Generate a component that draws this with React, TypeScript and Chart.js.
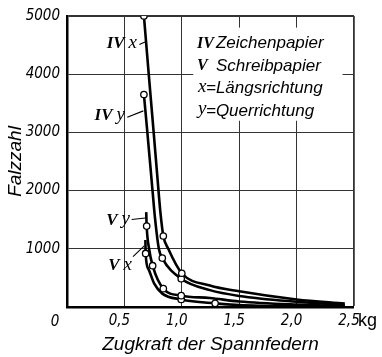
import { useEffect, useRef } from "react";
import { Chart, registerables } from "chart.js";

Chart.register(...registerables);

// Axis ticks
const kgTicks = [0, 0.5, 1.0, 1.5, 2.0, 2.5];
const falzTicks = [0, 1000, 2000, 3000, 4000, 5000];

// IV x – Zeichenpapier, Längsrichtung (ring = measured point)
const ivxKg = [0.67, 0.712, 0.755, 0.797, 0.815, 0.839, 0.882, 1.0, 1.245, 1.5, 2.0, 2.42];
const ivxFalz = [5000, 4000, 3000, 2000, 1600, 1220, 1000, 580, 370, 270, 130, 60];
const ivxRing = [1, 0, 0, 0, 0, 1, 0, 1, 0, 0, 0, 0];

// IV y – Zeichenpapier, Querrichtung
const ivyKg = [0.67, 0.7, 0.745, 0.768, 0.8, 0.83, 0.995, 1.245, 1.5, 2.0, 2.42];
const ivyFalz = [3650, 3000, 2000, 1500, 1000, 840, 485, 290, 190, 90, 35];
const ivyRing = [1, 0, 0, 0, 0, 1, 1, 0, 0, 0, 0];

// V y – Schreibpapier, Querrichtung
const vyKg = [0.69, 0.694, 0.715, 0.746, 0.839, 0.995, 1.245, 1.5, 2.0, 2.42];
const vyFalz = [1630, 1390, 1000, 710, 315, 195, 155, 95, 40, 15];
const vyRing = [0, 1, 0, 1, 1, 1, 0, 0, 0, 0];

// V x – Schreibpapier, Längsrichtung
const vxKg = [0.683, 0.685, 0.71, 0.76, 0.83, 0.995, 1.29, 1.5, 2.0, 2.42];
const vxFalz = [1150, 920, 650, 400, 230, 130, 63, 35, 12, 5];
const vxRing = [0, 1, 0, 0, 0, 1, 1, 0, 0, 0];

// Curve captions: numeral, direction letter, text anchor and leader line (kg, Falzzahl)
const curveCaptions = [
  { numeral: "IV", letter: "x", at: [0.61, 4525], lead: [[0.63, 4510], [0.69, 4560]] },
  { numeral: "IV", letter: "y", at: [0.505, 3290], lead: [[0.525, 3260], [0.665, 3370]] },
  { numeral: "V", letter: "y", at: [0.549, 1490], lead: [[0.563, 1503], [0.683, 1530]] },
  { numeral: "V", letter: "x", at: [0.566, 712], lead: [[0.575, 865], [0.673, 1050]] },
];

// Key text
const keyPrefixes = ["IV", "V", "x", "y"];
const keyTexts = ["Zeichenpapier", "Schreibpapier", "=Längsrichtung", "=Querrichtung"];

const SANS = '"Liberation Sans", "DejaVu Sans", sans-serif';
const NARROW = '"Liberation Sans Narrow", "DejaVu Sans Condensed", sans-serif';
const SERIF = '"Liberation Serif", "DejaVu Serif", serif';

const fmtKg = (v: number) => (v === 0 ? "" : v.toFixed(1).replace(".", ","));

const annotations = {
  id: "annotations",
  afterDraw(chart: any) {
    const { ctx, chartArea } = chart;
    const xs = chart.scales.x;
    const ys = chart.scales.y;
    const px = (k: number) => xs.getPixelForValue(k);
    const py = (f: number) => ys.getPixelForValue(f);
    ctx.save();

    // key box
    const bx0 = px(1.1);
    const bx1 = px(2.4);
    const by0 = py(4800);
    const by1 = py(3200);
    ctx.fillStyle = "#fff";
    ctx.fillRect(bx0, by0, bx1 - bx0, by1 - by0);

    ctx.fillStyle = "#000";
    ctx.textBaseline = "middle";
    ctx.textAlign = "left";
    const rowX = px(1.132);
    const rowY0 = py(4525);
    keyPrefixes.forEach((p, i) => {
      const y = rowY0 + i * 22.5;
      const roman = p === "IV" || p === "V";
      ctx.font = roman ? `italic bold 16px ${SERIF}` : `italic 19px ${SERIF}`;
      ctx.fillText(p, rowX + (roman ? 0 : 1), y + (roman ? 0 : -2));
      ctx.font = `italic 17px ${SANS}`;
      ctx.fillText(keyTexts[i], roman ? rowX + 19 : rowX + 9, y);
    });

    // curve captions with leader lines
    ctx.strokeStyle = "#000";
    ctx.lineWidth = 1.1;
    curveCaptions.forEach((c) => {
      const tx = px(c.at[0]);
      const ty = py(c.at[1]);
      ctx.textAlign = "right";
      ctx.font = `italic 19px ${SERIF}`;
      const lw = ctx.measureText(c.letter).width;
      ctx.fillText(c.letter, tx, ty - 1);
      ctx.font = `italic bold 17px ${SERIF}`;
      ctx.fillText(c.numeral, tx - lw - 4, ty);
      ctx.beginPath();
      ctx.moveTo(px(c.lead[0][0]), py(c.lead[0][1]));
      ctx.lineTo(px(c.lead[1][0]), py(c.lead[1][1]));
      ctx.stroke();
    });

    // shared origin label and unit
    ctx.font = `italic 15px ${NARROW}`;
    ctx.textAlign = "center";
    ctx.fillText("0", chartArea.left - 12, chartArea.bottom + 15);
    ctx.font = `18px ${SANS}`;
    ctx.textAlign = "left";
    ctx.fillText("kg", px(2.5) + 4, chartArea.bottom + 14);
    ctx.restore();
  },
};

function series(label: string, kg: number[], falz: number[], ring: number[]) {
  return {
    label,
    data: kg.map((x, i) => ({ x, y: falz[i] })),
    borderColor: "#000",
    borderWidth: 2.6,
    pointRadius: ring.map((r) => (r ? 3.2 : 0)),
    pointBackgroundColor: "#fff",
    pointBorderColor: "#000",
    pointBorderWidth: 1.3,
    cubicInterpolationMode: "monotone" as const,
    fill: false,
  };
}

export default function App() {
  const ref = useRef<HTMLCanvasElement>(null);

  useEffect(() => {
    const canvas = ref.current;
    if (!canvas) return;
    const chart = new Chart(canvas, {
      type: "line",
      data: {
        datasets: [
          series("IV x", ivxKg, ivxFalz, ivxRing),
          series("IV y", ivyKg, ivyFalz, ivyRing),
          series("V y", vyKg, vyFalz, vyRing),
          series("V x", vxKg, vxFalz, vxRing),
        ] as any,
      },
      options: {
        animation: false,
        responsive: false,
        layout: { padding: { left: 0, right: 28, top: 12, bottom: 0 } },
        plugins: { legend: { display: false }, tooltip: { enabled: false } },
        scales: {
          x: {
            type: "linear",
            min: 0,
            max: 2.5,
            afterBuildTicks: (s: any) => {
              s.ticks = kgTicks.map((value) => ({ value }));
            },
            afterFit: (s: any) => {
              s.height = 50;
            },
            ticks: {
              callback: (v: any) => fmtKg(Number(v)),
              font: { family: NARROW, size: 15, style: "italic" },
              color: "#000",
              padding: 5,
              labelOffset: -5,
              maxRotation: 0,
            },
            grid: {
              drawTicks: false,
              color: "#333",
              lineWidth: (c: any) => (c.tick && c.tick.value === 0 ? 0 : c.tick && c.tick.value === 2.5 ? 1.8 : 1),
            },
            border: { display: true, color: "#000", width: 2.5 },
            title: {
              display: true,
              text: "Zugkraft der Spannfedern",
              color: "#000",
              font: { family: SANS, size: 19, style: "italic" },
              padding: { top: 0, bottom: 1 },
            },
          },
          y: {
            type: "linear",
            min: 0,
            max: 5000,
            afterBuildTicks: (s: any) => {
              s.ticks = falzTicks.map((value) => ({ value }));
            },
            afterFit: (s: any) => {
              s.width = 67;
            },
            ticks: {
              callback: (v: any) => (Number(v) === 0 ? "" : String(v)),
              font: { family: NARROW, size: 15, style: "italic" },
              color: "#000",
              padding: 7,
            },
            grid: {
              drawTicks: false,
              color: "#333",
              lineWidth: (c: any) => (c.tick && c.tick.value === 0 ? 0 : c.tick && c.tick.value === 5000 ? 2 : 1),
            },
            border: { display: true, color: "#000", width: 2.5 },
            title: {
              display: true,
              text: "Falzzahl",
              color: "#000",
              font: { family: SANS, size: 19, style: "italic" },
              padding: { top: 4, bottom: 0 },
            },
          },
        },
      },
      plugins: [annotations],
    });
    return () => chart.destroy();
  }, []);

  return (
    <div style={{ position: "absolute", left: 0, top: 0, width: 382, height: 357, background: "#fff" }}>
      <canvas ref={ref} width={382} height={357} style={{ display: "block" }} />
    </div>
  );
}
